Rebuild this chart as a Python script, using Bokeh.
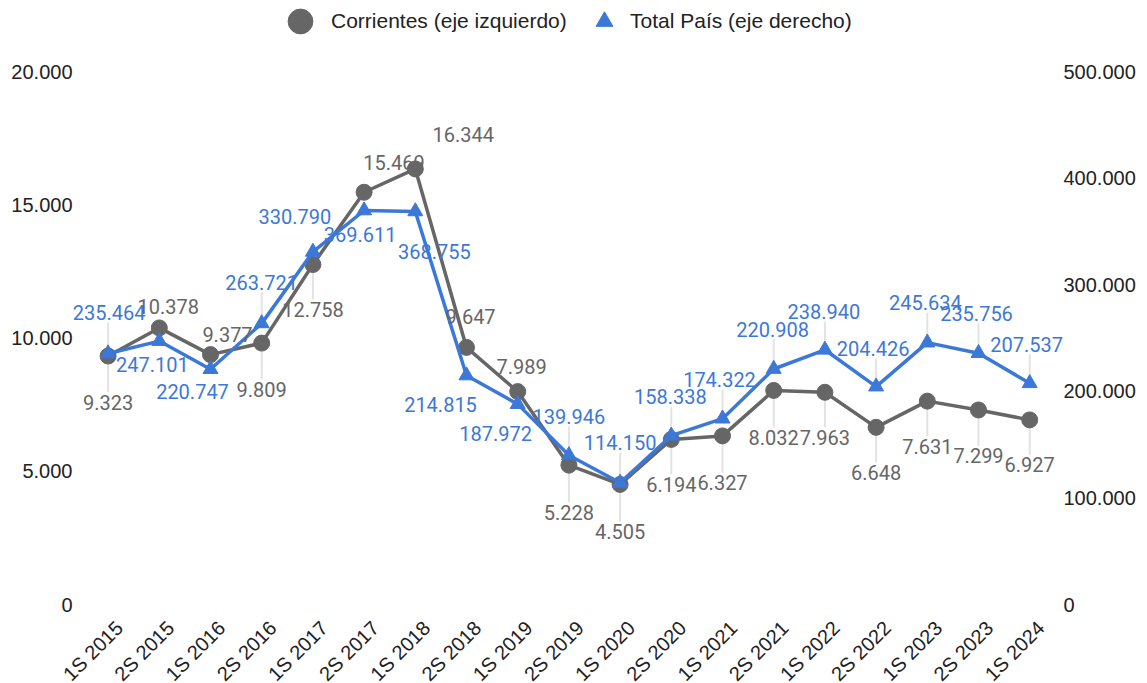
import math
from bokeh.plotting import figure
from bokeh.models import (Range1d, LinearAxis, FixedTicker, CustomJSTickFormatter,
                          Legend, LegendItem, LabelSet, ColumnDataSource)
from bokeh.core.properties import value
from bokeh.embed import file_html
from bokeh.resources import INLINE

# ---------------- data ----------------
periods = ["1S 2015", "2S 2015", "1S 2016", "2S 2016", "1S 2017", "2S 2017", "1S 2018",
           "2S 2018", "1S 2019", "2S 2019", "1S 2020", "2S 2020", "1S 2021", "2S 2021",
           "1S 2022", "2S 2022", "1S 2023", "2S 2023", "1S 2024"]
corrientes = [9323, 10378, 9377, 9809, 12758, 15469, 16344, 9647, 7989, 5228, 4505,
              6194, 6327, 8032, 7963, 6648, 7631, 7299, 6927]
total_pais = [235464, 247101, 220747, 263721, 330790, 369611, 368755, 214815, 187972,
              139946, 114150, 158338, 174322, 220908, 238940, 204426, 245634, 235756, 207537]
left_ticks = [0, 5000, 10000, 15000, 20000]
right_ticks = [0, 100000, 200000, 300000, 400000, 500000]

# label placement (screen px; dy positive = up)
corr_dx = [0, 9, 17, 0, 0, 30, 48, 4, 4, 0, 0, 0, 0, 0, 0, 0, 0, 0, 0]
corr_dy = [-46, 21, 20, -46, -45, 30, 34, 31, 25, -47, -47, -45, -47, -47, -45, -45, -45, -46, -45]
tot_dx = [1, -7, -18, 0, -18, -4, 19, -26, -22, 0, 0, -1, -3, -1, -1, -3, -2, -2, -3]
tot_dy = [41, -23, -22, 41, 35, -24, -40, -29, -29, 39, 40, 39, 39, 40, 38, 38, 40, 40, 39]

GRAY = "#666666"
BLUE = "#3c78d8"
LEFT_MAX = 20000
RIGHT_MAX = 500000

# layout (px)
FRAME_L, FRAME_W = 66, 1003
FRAME_H, TOP_PX = 604, 71          # value axis top (20.000) sits TOP_PX below the frame top
STEP = 51.2                        # px between periods
FIRST_X = 107.6                    # px of first period from canvas left
LABEL_SHIFT = 0.22                 # category label anchor shift (in period units)
y_end_left = LEFT_MAX * FRAME_H / (FRAME_H - TOP_PX)
y_end_right = RIGHT_MAX * FRAME_H / (FRAME_H - TOP_PX)
x_start = -(FIRST_X - FRAME_L) / STEP
x_end = x_start + FRAME_W / STEP


def fmt(v):
    return f"{v:,}".replace(",", ".")


xs = list(range(len(periods)))

p = figure(x_range=Range1d(x_start, x_end), y_range=Range1d(0, y_end_left),
           frame_width=FRAME_W, frame_height=FRAME_H,
           min_border_left=FRAME_L, min_border_right=70, min_border_top=0, min_border_bottom=77,
           output_backend="svg", toolbar_location=None)
p.extra_y_ranges = {"right": Range1d(0, y_end_right)}
p.outline_line_color = None
p.xgrid.visible = False
p.ygrid.visible = False
p.background_fill_color = "white"
p.border_fill_color = "white"

formatter = CustomJSTickFormatter(code="""
return Math.round(tick).toString().replace(/\\B(?=(\\d{3})+(?!\\d))/g, ".");
""")


def style_axis(a, standoff, size="20px"):
    a.axis_line_color = None
    a.major_tick_line_color = None
    a.minor_tick_line_color = None
    a.major_tick_out = 0
    a.major_tick_in = 0
    a.minor_tick_out = 0
    a.minor_tick_in = 0
    a.major_label_standoff = standoff
    a.major_label_text_font = "Liberation Sans"
    a.major_label_text_font_size = size
    a.major_label_text_color = "#222222"


ax = p.yaxis[0]
ax.ticker = FixedTicker(ticks=left_ticks)
ax.formatter = formatter
style_axis(ax, -6)

rax = LinearAxis(y_range_name="right", ticker=FixedTicker(ticks=right_ticks), formatter=formatter)
style_axis(rax, -6)
p.add_layout(rax, "right")

xa = p.xaxis[0]
xa.ticker = FixedTicker(ticks=[i + LABEL_SHIFT for i in xs])
xa.formatter = CustomJSTickFormatter(args=dict(labels=periods),
                                     code="return labels[Math.round(tick)];")
style_axis(xa, 20, "20px")
xa.major_label_orientation = math.pi / 4

# leader lines
lpx = y_end_left / FRAME_H
rpx = y_end_right / FRAME_H
lx, ly0, ly1 = [], [], []
for i, v, dx, dy in zip(xs, corrientes, corr_dx, corr_dy):
    if abs(dx) < 6 and abs(dy) >= 38:
        s = 1 if dy > 0 else -1
        lx.append(i); ly0.append(v); ly1.append(v + (dy - s * 10) * lpx)
p.segment(x0=lx, x1=lx, y0=ly0, y1=ly1, line_color="#e3e3e3", line_width=2)
rx, ry0, ry1 = [], [], []
for i, v, dx, dy in zip(xs, total_pais, tot_dx, tot_dy):
    if abs(dx) < 6 and abs(dy) >= 38:
        s = 1 if dy > 0 else -1
        rx.append(i); ry0.append(v); ry1.append(v + (dy - s * 10) * rpx)
p.segment(x0=rx, x1=rx, y0=ry0, y1=ry1, line_color="#e3e3e3", line_width=2, y_range_name="right")

# series
p.line(xs, corrientes, line_color=GRAY, line_width=3.5)
r_corr = p.scatter(xs, corrientes, marker="circle", size=16, fill_color=GRAY, line_color=GRAY)
p.line(xs, total_pais, line_color=BLUE, line_width=3.5, y_range_name="right")
r_tot = p.scatter(xs, total_pais, marker="triangle", size=15, fill_color=BLUE, line_color=BLUE,
                  y_range_name="right")

# data labels
src_c = ColumnDataSource(dict(x=xs, y=corrientes, t=[fmt(v) for v in corrientes],
                              dx=corr_dx, dy=corr_dy))
src_t = ColumnDataSource(dict(x=xs, y=total_pais, t=[fmt(v) for v in total_pais],
                              dx=tot_dx, dy=tot_dy))
p.add_layout(LabelSet(x="x", y="y", text="t", x_offset="dx", y_offset="dy", source=src_c,
                      text_align="center", text_baseline="middle", text_color=GRAY,
                      text_font=value("Roboto"), text_font_size="20px"))
p.add_layout(LabelSet(x="x", y="y", text="t", x_offset="dx", y_offset="dy", source=src_t,
                      y_range_name="right",
                      text_align="center", text_baseline="middle", text_color=BLUE,
                      text_font=value("Roboto"), text_font_size="20px"))

leg_common = dict(orientation="horizontal", padding=0, margin=0, border_line_color=None,
                  background_fill_alpha=0, label_text_font="Liberation Sans",
                  label_text_font_size="21px", label_text_color="#222222")
legend1 = Legend(items=[LegendItem(label="Corrientes (eje izquierdo)", renderers=[r_corr])],
                 location=(203, 552), glyph_width=62, glyph_height=62, label_standoff=-12,
                 **leg_common)
legend2 = Legend(items=[LegendItem(label="Total País (eje derecho)", renderers=[r_tot])],
                 location=(517, 562), glyph_width=42, glyph_height=42, label_standoff=5,
                 **leg_common)
p.add_layout(legend1, "center")
p.add_layout(legend2, "center")

open("out.html", "w").write(file_html(p, INLINE))
